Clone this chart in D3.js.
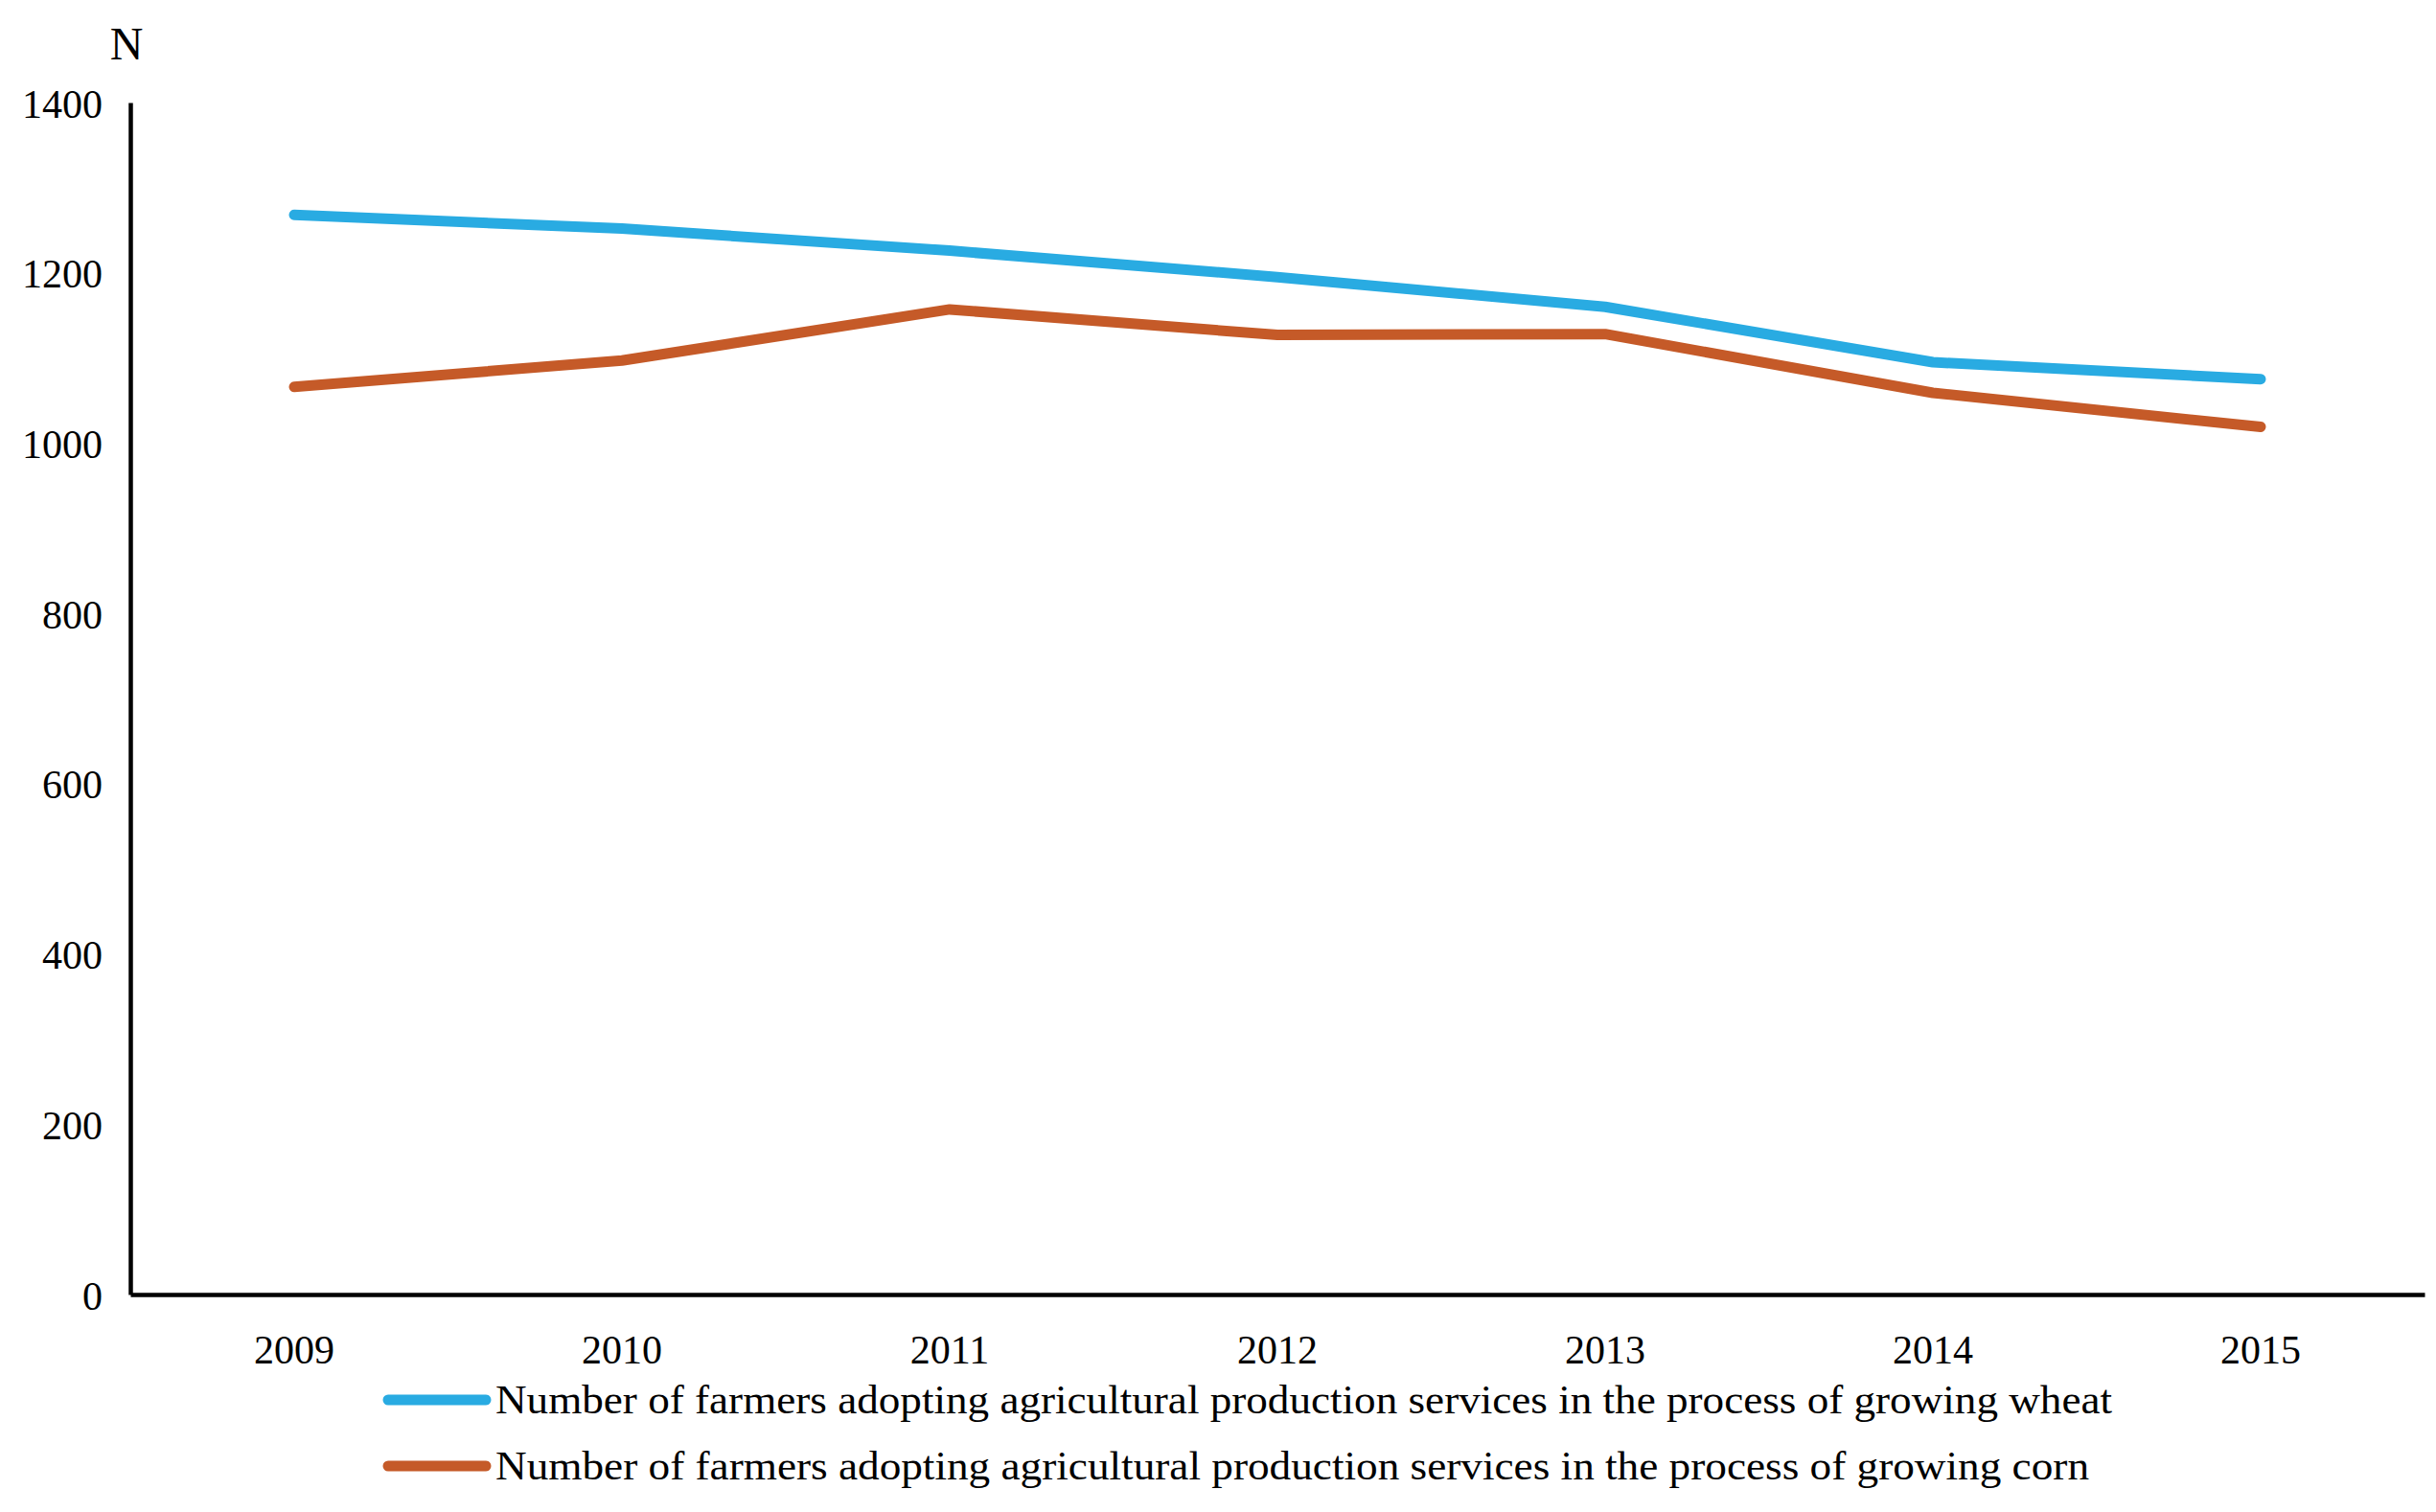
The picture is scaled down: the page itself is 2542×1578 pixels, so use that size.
<!DOCTYPE html>
<html>
<head>
<meta charset="utf-8">
<script src="https://cdn.jsdelivr.net/npm/d3@7"></script>
<style>
body{margin:0;background:#fff;}
svg{display:block;}
text{font-family:"Liberation Serif","Times New Roman",serif;fill:#000;}
</style>
</head>
<body>
<svg id="main"></svg>
<script>
var WIDTH=2542;
var HEIGHT=1578;

//data
var years=["2009","2010","2011","2012","2013","2014","2015"];
var wheat=[1268,1252,1226,1195,1160,1095,1075];
var corn=[1066,1097,1157,1127,1128,1059,1019];
var yTicks=[0,200,400,600,800,1000,1200,1400];
var seriesNames=["Number of farmers adopting agricultural production services in the process of growing wheat",
    "Number of farmers adopting agricultural production services in the process of growing corn"];
var linecolor=["#29abe2","#c55a28"];

var svg=d3.select("#main").attr("width",WIDTH).attr("height",HEIGHT);

var x=d3.scaleBand().domain(years).range([136,2530]);
var y=d3.scaleLinear().domain([0,1400]).range([1351,107]);

//axes, no tick marks
var yAxis=svg.append("g").attr("transform","translate(136,0)")
    .call(d3.axisLeft(y).tickValues(yTicks).tickFormat(d3.format("d")).tickSize(0).tickPadding(29));
yAxis.select(".domain").attr("stroke","#000").attr("stroke-width",4.5);
yAxis.selectAll("text").attr("font-size",42).attr("dy","0.36em");

var xAxis=svg.append("g").attr("transform","translate(0,1351)")
    .call(d3.axisBottom(x).tickSize(0).tickPadding(42));
xAxis.select(".domain").attr("stroke","#000").attr("stroke-width",4.5);
xAxis.selectAll("text").attr("font-size",42).attr("dy","0.71em");

svg.append("text").attr("x",132).attr("y",62).attr("text-anchor","middle")
    .attr("font-size",48).text("N");

var line=d3.line()
    .x(function(d,i){return x(years[i])+x.bandwidth()/2})
    .y(function(d){return y(d)});

[wheat,corn].forEach(function(s,k){
    svg.append("path").datum(s)
        .attr("d",line)
        .attr("fill","none")
        .attr("stroke",linecolor[k])
        .attr("stroke-width",11)
        .attr("stroke-linecap","round")
        .attr("stroke-linejoin","round");
});

//legend
var legend=svg.append("g").attr("class","legend");
var rows=legend.selectAll("g").data(seriesNames).enter().append("g")
    .attr("transform",function(d,i){return "translate(0,"+(1461+i*69)+")"});
rows.append("line").attr("x1",405).attr("x2",507).attr("y1",0).attr("y2",0)
    .attr("stroke",function(d,i){return linecolor[i]})
    .attr("stroke-width",11).attr("stroke-linecap","round");
rows.append("text").attr("x",517).attr("y",0).attr("dy","0.33em")
    .attr("font-size",42)
    .attr("textLength",function(d,i){return i==0?1687:1663})
    .attr("lengthAdjust","spacingAndGlyphs")
    .text(function(d){return d});
</script>
</body>
</html>
